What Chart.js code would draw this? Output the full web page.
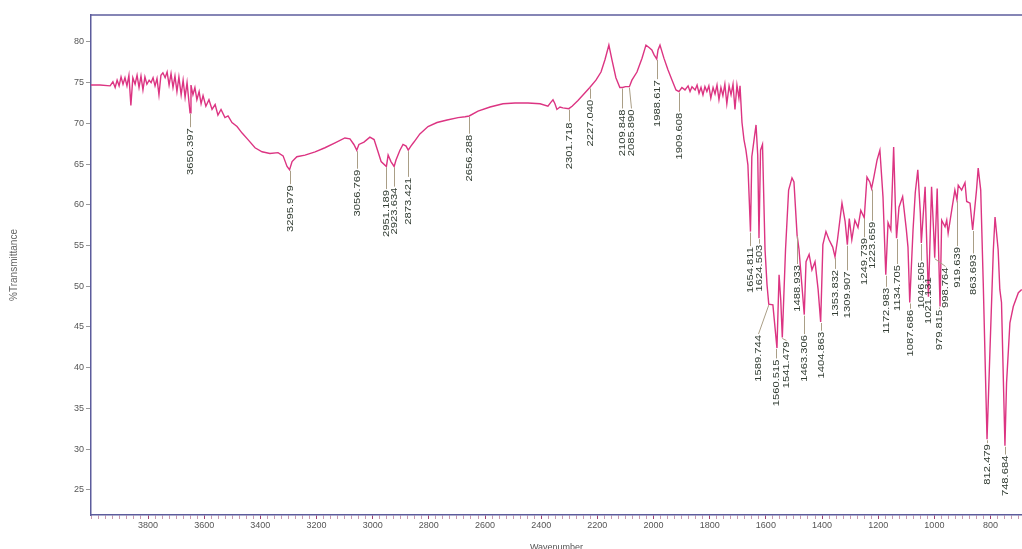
<!DOCTYPE html>
<html><head><meta charset="utf-8">
<script src="https://cdn.jsdelivr.net/npm/chart.js@4/dist/chart.umd.min.js"></script>
<style>html,body{margin:0;padding:0;background:#fff;overflow:hidden}canvas{display:block}</style>
</head><body>
<canvas id="c" width="1022" height="549"></canvas>
<script>
const wavenumber = [
4003,3971,3935,3925,3917,3910,3903,3896,3889,3882,3875,3868,3861,3854,3846,3839,3832,3825,3818,3811,
3804,3796,3789,3782,3775,3768,3761,3754,3747,3739,3732,3725,3718,3711,3704,3697,3690,3682,3675,3668,
3661,3650.4,3647,3640,3633,3626,3618,3611,3604,3594,3583,3572,3561,3551,3540,3526,3515,3501,3483,3465,
3444,3419,3394,3366,3337,3319,3305,3296,3287,3270,3241,3205,3170,3134,3099,3081,3067,3056.8,3049,3031,
3010,2995,2981,2970,2951.2,2945,2935,2923.6,2917,2903,2892,2881,2873.4,2864,2853,2832,2803,2771,2735,2696,
2671,2656.3,2625,2582,2536,2493,2447,2404,2376,2365,2358,2351,2344,2333,2323,2301.7,2290,2269,2248,2227,
2205,2187,2173,2159,2148,2134,2120,2109.8,2100,2085.9,2077,2059,2041,2027,2016,2006,1998,1988.6,1984,1977,
1963,1949,1934,1920,1909.6,1899,1888,1877,1870,1863,1852,1845,1838,1831,1824,1817,1810,1803,1796,1788,
1781,1774,1767,1760,1753,1746,1739,1731,1724,1717,1710,1703,1696,1692,1685,1678,1671,1664,1654.8,1650,
1642,1635,1629,1624.5,1619,1612,1603,1596,1589.7,1575,1560.5,1553,1547,1541.5,1530,1519,1507,1500,1488.9,1482,
1472,1463.3,1457,1446,1436,1425,1414,1404.9,1397,1386,1375,1362,1353.8,1345,1329,1318,1309.9,1303,1294,1283,
1272,1262,1249.7,1240,1230,1223.7,1216,1204,1194,1183,1173,1165,1155,1145,1139,1134.7,1126,1113,1100,1094,
1087.7,1076,1068,1059,1050,1046.5,1033,1026,1021.1,1010,1003,998.8,990,984,979.8,974,962,956,951,938,
927,919.6,915,903,891,885,873,863.7,850,844,835,826,812.5,802,790,784,773,767,761,748.7,
743,731,719,701,689
];
const transmittance = [
74.7,74.7,74.6,75.1,74.4,75.3,74.6,75.7,74.8,75.6,74.6,75.9,72.2,75.6,74.8,75.9,74.4,75.8,74.1,75.7,
74.8,75.3,75.0,75.6,74.6,75.5,73.5,75.9,76.2,75.6,76.3,74.7,76.1,74.4,75.8,73.9,75.7,73.5,75.3,73.2,
75.0,71.3,74.7,73.5,74.4,72.9,73.9,72.4,73.4,72.1,72.9,71.7,72.3,71.0,71.7,70.7,70.9,70.1,69.6,68.8,
68.0,67.0,66.5,66.3,66.4,66.0,64.7,64.3,65.3,65.9,66.1,66.5,67.0,67.6,68.2,68.1,67.4,66.7,67.4,67.7,
68.3,68.0,66.5,65.3,64.7,66.1,65.3,64.7,65.5,66.7,67.4,67.2,66.7,67.2,67.7,68.7,69.6,70.1,70.4,70.7,
70.8,70.9,71.5,72.0,72.4,72.5,72.5,72.4,72.1,72.6,72.9,72.4,71.7,72.0,71.9,71.8,72.1,72.8,73.6,74.4,
75.3,76.3,77.8,79.6,77.8,75.6,74.4,74.4,74.5,74.5,75.3,76.3,78.0,79.6,79.3,79.0,78.4,77.9,79.0,79.6,
78.0,76.6,75.3,74.1,73.9,74.4,74.1,74.6,73.9,74.5,74.1,74.7,73.7,74.4,73.5,74.5,73.9,74.6,73.1,74.4,
73.6,74.7,72.9,74.4,73.4,74.8,72.4,74.6,73.5,74.8,71.7,74.7,73.1,74.6,70.1,68.0,66.7,64.9,56.7,65.9,
68.0,69.8,66.1,55.9,66.7,67.4,54.5,50.2,47.8,47.7,42.4,51.4,48.3,43.7,54.5,61.8,63.3,62.8,56.3,54.5,
50.2,46.5,53.0,53.9,52.0,53.0,49.6,45.6,55.1,56.7,55.7,54.8,53.6,55.7,60.2,58.0,55.1,58.3,55.7,58.1,
57.2,59.3,58.4,63.4,62.8,62.0,63.3,65.5,66.7,61.0,51.4,57.8,56.9,67.1,60.0,55.9,59.7,61.0,57.0,54.8,
48.0,56.9,61.5,64.3,59.0,55.3,62.2,54.0,48.7,62.2,57.0,53.5,62.0,53.0,47.5,58.1,57.3,58.1,56.5,59.4,
61.8,60.6,62.4,61.8,62.7,60.4,60.2,56.9,61.8,64.5,61.8,50.4,31.2,42.2,54.5,58.5,54.5,49.6,48.0,30.4,
38.1,45.5,47.5,49.2,49.6
];
const xTickLabels = [3800,3600,3400,3200,3000,2800,2600,2400,2200,2000,1800,1600,1400,1200,1000,800];
const yTickLabels = [25,30,35,40,45,50,55,60,65,70,75,80];
const peakLabels = ['3650.397','3295.979','3056.769','2951.189','2923.634','2873.421','2656.288','2301.718',
 '2227.040','2109.848','2085.890','1988.617','1909.608','1654.811','1624.503','1589.744','1560.515','1541.479',
 '1488.933','1463.306','1404.863','1353.832','1309.907','1249.739','1223.659','1172.983','1134.705','1087.686',
 '1046.505','1021.131','998.764','979.815','919.639','863.693','812.479','748.684'];
const peakWavenumber = [3650.397,3295.979,3056.769,2951.189,2923.634,2873.421,2656.288,2301.718,
 2227.040,2109.848,2085.890,1988.617,1909.608,1654.811,1624.503,1589.744,1560.515,1541.479,
 1488.933,1463.306,1404.863,1353.832,1309.907,1249.739,1223.659,1172.983,1134.705,1087.686,
 1046.505,1021.131,998.764,979.815,919.639,863.693,812.479,748.684];
const peakTransmittance = [71.3,64.3,66.7,64.7,64.7,66.7,70.9,71.8,74.4,74.4,74.5,77.9,73.9,56.7,55.9,47.8,42.4,43.7,
 56.3,46.5,45.6,53.6,55.1,58.4,62.0,51.4,55.9,48.0,55.3,48.7,53.5,47.5,60.6,56.9,31.2,30.4];
// where each label's text sits (wavenumber of its column, %T of its top end)
const peakLabelAt = [3650.397,3295.979,3056.769,2951.189,2923.634,2873.421,2656.288,2301.718,
 2227.040,2112,2080,1988.617,1909.608,1656,1624.503,1628,1563,1529,
 1488.933,1463.306,1404.863,1353.832,1309.907,1249.739,1223.659,1172.983,1134.705,1087.686,
 1046.505,1021.131,962,984,919.639,863.693,812.479,748.684];
const peakLabelLevel = [69.4,62.4,64.3,61.8,62.1,63.3,68.6,70.1,72.9,71.7,71.7,75.3,71.3,54.8,55.1,44.0,41.0,43.2,
 52.6,44.0,44.4,52.0,51.8,55.9,57.9,49.8,52.6,47.1,53.0,51.1,52.3,47.1,54.8,53.9,30.6,29.2];

const xMinorTicks = [];
for (let v = 4000; v >= 700; v -= 25) xMinorTicks.push(v);

const points = wavenumber.map((w, i) => ({x: w, y: transmittance[i]}));
const frameColor = '#5c5c9c';

const peakPlugin = {
  id: 'peakLabels',
  afterDatasetsDraw(chart) {
    const {ctx, scales: {x, y}} = chart;
    ctx.save();
    ctx.font = '8.5px "Liberation Sans", Arial, sans-serif';
    ctx.textBaseline = 'middle';
    ctx.textAlign = 'right';
    peakLabels.forEach((lab, i) => {
      const px0 = x.getPixelForValue(peakWavenumber[i]);
      const py0 = y.getPixelForValue(peakTransmittance[i]) + 1;
      const px1 = Math.round(x.getPixelForValue(peakLabelAt[i])) + 0.5;
      const py1 = y.getPixelForValue(peakLabelLevel[i]);
      if (py1 - py0 > 2) {
        ctx.strokeStyle = '#aa9e86';
        ctx.lineWidth = 1;
        ctx.beginPath(); ctx.moveTo(Math.abs(px0 - px1) < 1.5 ? px1 : px0, py0); ctx.lineTo(px1, py1 - 1); ctx.stroke();
      }
      ctx.save();
      ctx.translate(px1, py1);
      ctx.rotate(-Math.PI / 2);
      ctx.scale(1.32, 1);
      ctx.fillStyle = '#2f3a30';
      ctx.fillText(lab, 0, 0);
      ctx.restore();
    });
    ctx.restore();
  }
};
const framePlugin = {
  id: 'frame',
  afterDraw(chart) {
    const {ctx, chartArea: a} = chart;
    ctx.save();
    ctx.strokeStyle = frameColor;
    ctx.lineWidth = 1.5;
    ctx.beginPath(); ctx.moveTo(a.left, a.top); ctx.lineTo(a.right, a.top); ctx.stroke();
    ctx.restore();
  }
};

new Chart(document.getElementById('c'), {
  type: 'line',
  data: {datasets: [{data: points, borderColor: '#dc3482', borderWidth: 1.4, pointRadius: 0, tension: 0, fill: false}]},
  options: {
    responsive: false,
    animation: false,
    layout: {padding: {top: 15, right: 0, left: 0, bottom: 0}},
    plugins: {legend: {display: false}, tooltip: {enabled: false}},
    scales: {
      x: {
        type: 'linear', reverse: true, min: 688, max: 4003, bounds: 'data',
        afterBuildTicks: s => { s.ticks = xMinorTicks.map(v => ({value: v})); },
        afterFit: s => { s.height = 34; },
        ticks: {autoSkip: false, maxRotation: 0, minRotation: 0, padding: 1,
          font: {size: 9, family: '"Liberation Sans", Arial, sans-serif'}, color: '#555',
          callback: v => xTickLabels.includes(v) ? String(v) : ''},
        grid: {drawOnChartArea: false, tickLength: 4,
          tickColor: c => (c.tick && xTickLabels.includes(c.tick.value)) ? '#a04070' : '#c99ab0'},
        border: {color: frameColor, width: 1.5},
        title: {display: true, text: 'Wavenumber', color: '#555',
          font: {size: 9, family: '"Liberation Sans", Arial, sans-serif'}, padding: {top: 0, bottom: -4}}
      },
      y: {
        type: 'linear', min: 21.9, max: 83.3, bounds: 'data',
        afterBuildTicks: s => { s.ticks = yTickLabels.map(v => ({value: v})); },
        afterFit: s => { s.width = 91; },
        ticks: {padding: 2, font: {size: 9, family: '"Liberation Sans", Arial, sans-serif'}, color: '#555'},
        grid: {drawOnChartArea: false, tickLength: 5, tickColor: '#999'},
        border: {color: frameColor, width: 1.5},
        title: {display: true, text: '%Transmittance', color: '#666',
          font: {size: 10, family: '"Liberation Sans", Arial, sans-serif'}, padding: {top: 8, bottom: 0}}
      }
    }
  },
  plugins: [peakPlugin, framePlugin]
});
</script>
</body></html>
